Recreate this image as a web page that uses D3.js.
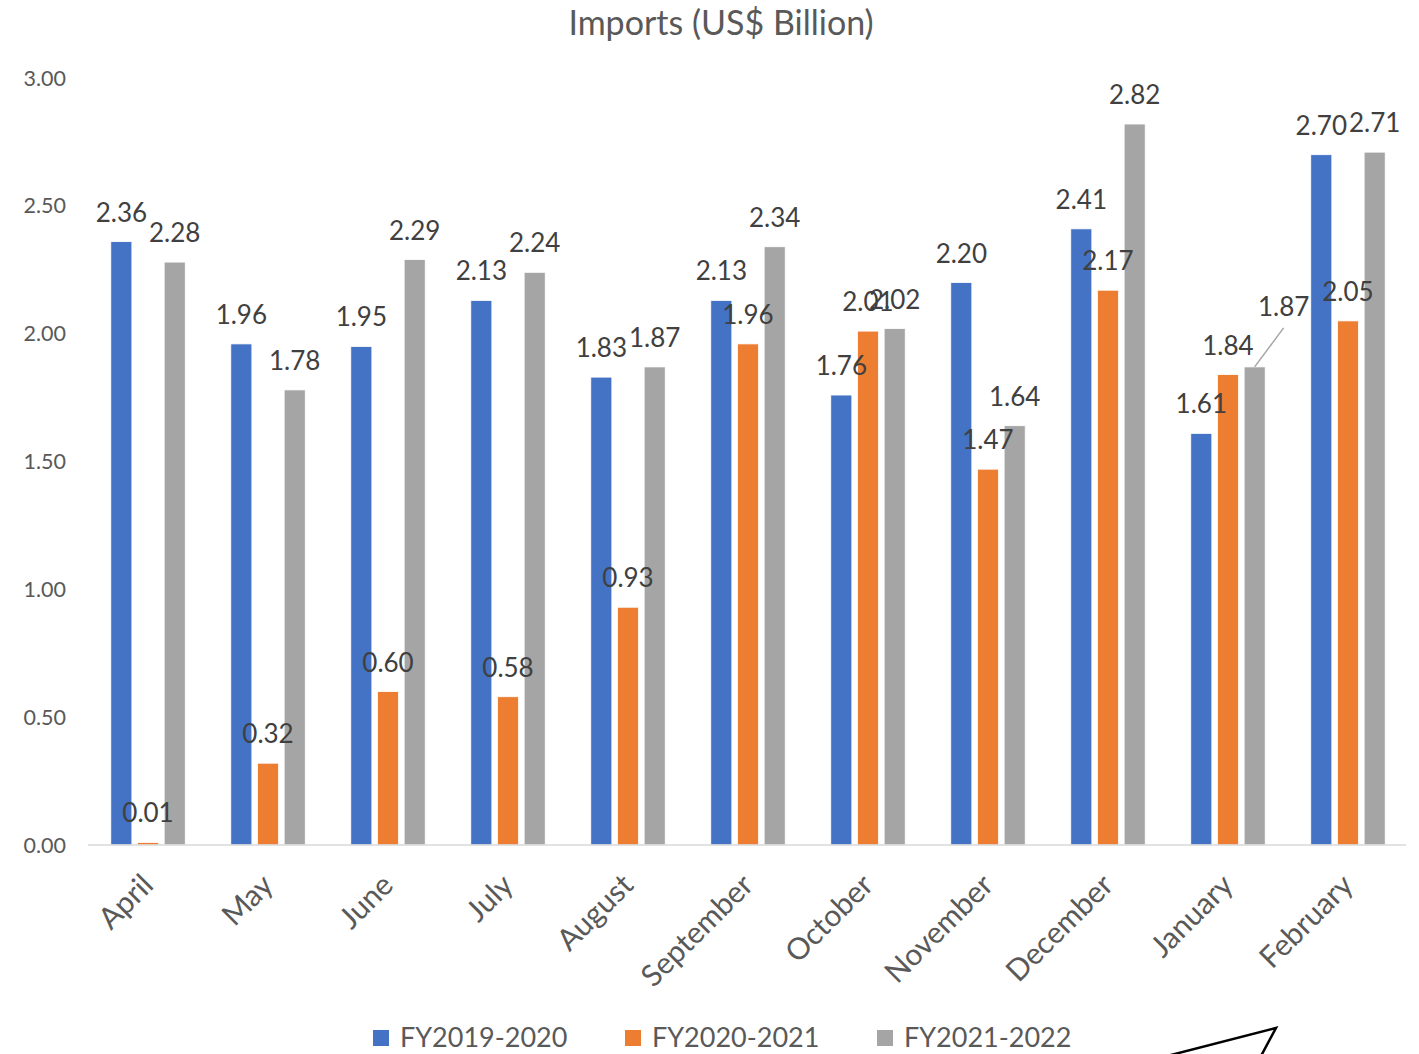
<!DOCTYPE html>
<html>
  <head>
    <meta charset="utf-8" />
    <script src="https://d3js.org/d3.v7.min.js"></script>
    <style>
      body { margin: 0; background: #fff; }
      svg text { font-family: Lato, "Open Sans", sans-serif; }
    </style>
  </head>
  <body>
    <svg id="chart"></svg>
    <script>
      // Data
      var months = ["April", "May", "June", "July", "August", "September",
        "October", "November", "December", "January", "February"];
      var seriesNames = ["FY2019-2020", "FY2020-2021", "FY2021-2022"];
      var fy1920 = [2.36, 1.96, 1.95, 2.13, 1.83, 2.13, 1.76, 2.20, 2.41, 1.61, 2.70];
      var fy2021 = [0.01, 0.32, 0.60, 0.58, 0.93, 1.96, 2.01, 1.47, 2.17, 1.84, 2.05];
      var fy2122 = [2.28, 1.78, 2.29, 2.24, 1.87, 2.34, 2.02, 1.64, 2.82, 1.87, 2.71];
      var yTicks = [0, 0.5, 1, 1.5, 2, 2.5, 3];
      var colors = ["#4472C4", "#ED7D31", "#A5A5A5"];

      var width = 1419;
      var height = 1054;

      var svg = d3.select("#chart").attr("width", width).attr("height", height);

      var series = [fy1920, fy2021, fy2122];
      var rows = months.map(function (m, i) {
        return { month: m, values: series.map(function (s, j) { return { key: j, value: s[i], month: m }; }) };
      });

      // Scales
      var x0 = d3.scaleBand().domain(months).range([88, 1408])
        .paddingInner(0.333).paddingOuter(0.1667);
      var x1 = d3.scaleBand().domain([0, 1, 2]).range([0, x0.bandwidth()])
        .paddingInner(0.21).paddingOuter(0.105);
      var y = d3.scaleLinear().domain([0, 3]).range([845, 78]);

      // Title
      svg.append("text")
        .attr("x", 721).attr("y", 35)
        .attr("text-anchor", "middle")
        .attr("fill", "#595959")
        .style("font-size", "34px")
        .text("Imports (US$ Billion)");

      // Y axis labels
      svg.append("g").selectAll("text")
        .data(yTicks).join("text")
        .attr("x", 66).attr("y", function (d) { return y(d); })
        .attr("dy", "0.35em")
        .attr("text-anchor", "end")
        .attr("fill", "#595959")
        .style("font-size", "21.5px")
        .text(function (d) { return d3.format(".2f")(d); });

      // Bars
      var groups = svg.append("g").selectAll("g")
        .data(rows).join("g")
        .attr("transform", function (d) { return "translate(" + x0(d.month) + ",0)"; });

      groups.selectAll("rect")
        .data(function (d) { return d.values; }).join("rect")
        .attr("x", function (d) { return x1(d.key); })
        .attr("width", x1.bandwidth())
        .attr("y", function (d) { return y(d.value); })
        .attr("height", function (d) { return y(0) - y(d.value); })
        .attr("fill", function (d) { return colors[d.key]; })
        .attr("stroke", "#fff")
        .attr("stroke-width", 0.8);

      // Baseline
      svg.append("line")
        .attr("x1", 88).attr("x2", 1406)
        .attr("y1", y(0)).attr("y2", y(0))
        .attr("stroke", "#D9D9D9").attr("stroke-width", 1.5);

      // Data labels (January FY2021-2022 label was dragged away with a leader line)
      var moved = { month: "January", key: 2, dx: 29, dy: -31 };
      groups.selectAll("text.lbl")
        .data(function (d) { return d.values; }).join("text")
        .attr("class", "lbl")
        .attr("x", function (d) {
          var base = x1(d.key) + x1.bandwidth() / 2;
          return (d.month === moved.month && d.key === moved.key) ? base + moved.dx : base;
        })
        .attr("y", function (d) {
          var base = y(d.value) - 20;
          return (d.month === moved.month && d.key === moved.key) ? base + moved.dy : base;
        })
        .attr("text-anchor", "middle")
        .attr("fill", "#404040")
        .style("font-size", "26px")
        .text(function (d) { return d3.format(".2f")(d.value); });

      // Leader line for the moved label
      var mi = months.indexOf(moved.month);
      var mx = x0(moved.month) + x1(moved.key) + x1.bandwidth() / 2;
      var my = y(series[moved.key][mi]);
      svg.append("line")
        .attr("x1", mx).attr("y1", my)
        .attr("x2", mx + 29).attr("y2", my - 39)
        .attr("stroke", "#A6A6A6").attr("stroke-width", 1.5);

      // X labels
      svg.append("g").selectAll("text")
        .data(months).join("text")
        .attr("transform", function (d) {
          var cx = x0(d) + x0.bandwidth() / 2 + 7;
          return "translate(" + cx + ",887) rotate(-45)";
        })
        .attr("text-anchor", "end")
        .attr("fill", "#595959")
        .style("font-size", "30px")
        .text(function (d) { return d; });

      // Legend
      var legend = svg.append("g").selectAll("g")
        .data(seriesNames).join("g")
        .attr("transform", function (d, i) { return "translate(" + (373 + i * 252) + ",1030)"; });
      legend.append("rect")
        .attr("width", 16).attr("height", 16)
        .attr("fill", function (d, i) { return colors[i]; });
      legend.append("text")
        .attr("x", 27).attr("y", 17)
        .attr("fill", "#595959")
        .style("font-size", "27px")
        .text(function (d) { return d; });

      // Stray arrow shape at the bottom right
      svg.append("path")
        .attr("d", "M1167,1056 L1276,1028 L1261,1056")
        .attr("fill", "none")
        .attr("stroke", "#000")
        .attr("stroke-width", 2.5);
    </script>
  </body>
</html>
